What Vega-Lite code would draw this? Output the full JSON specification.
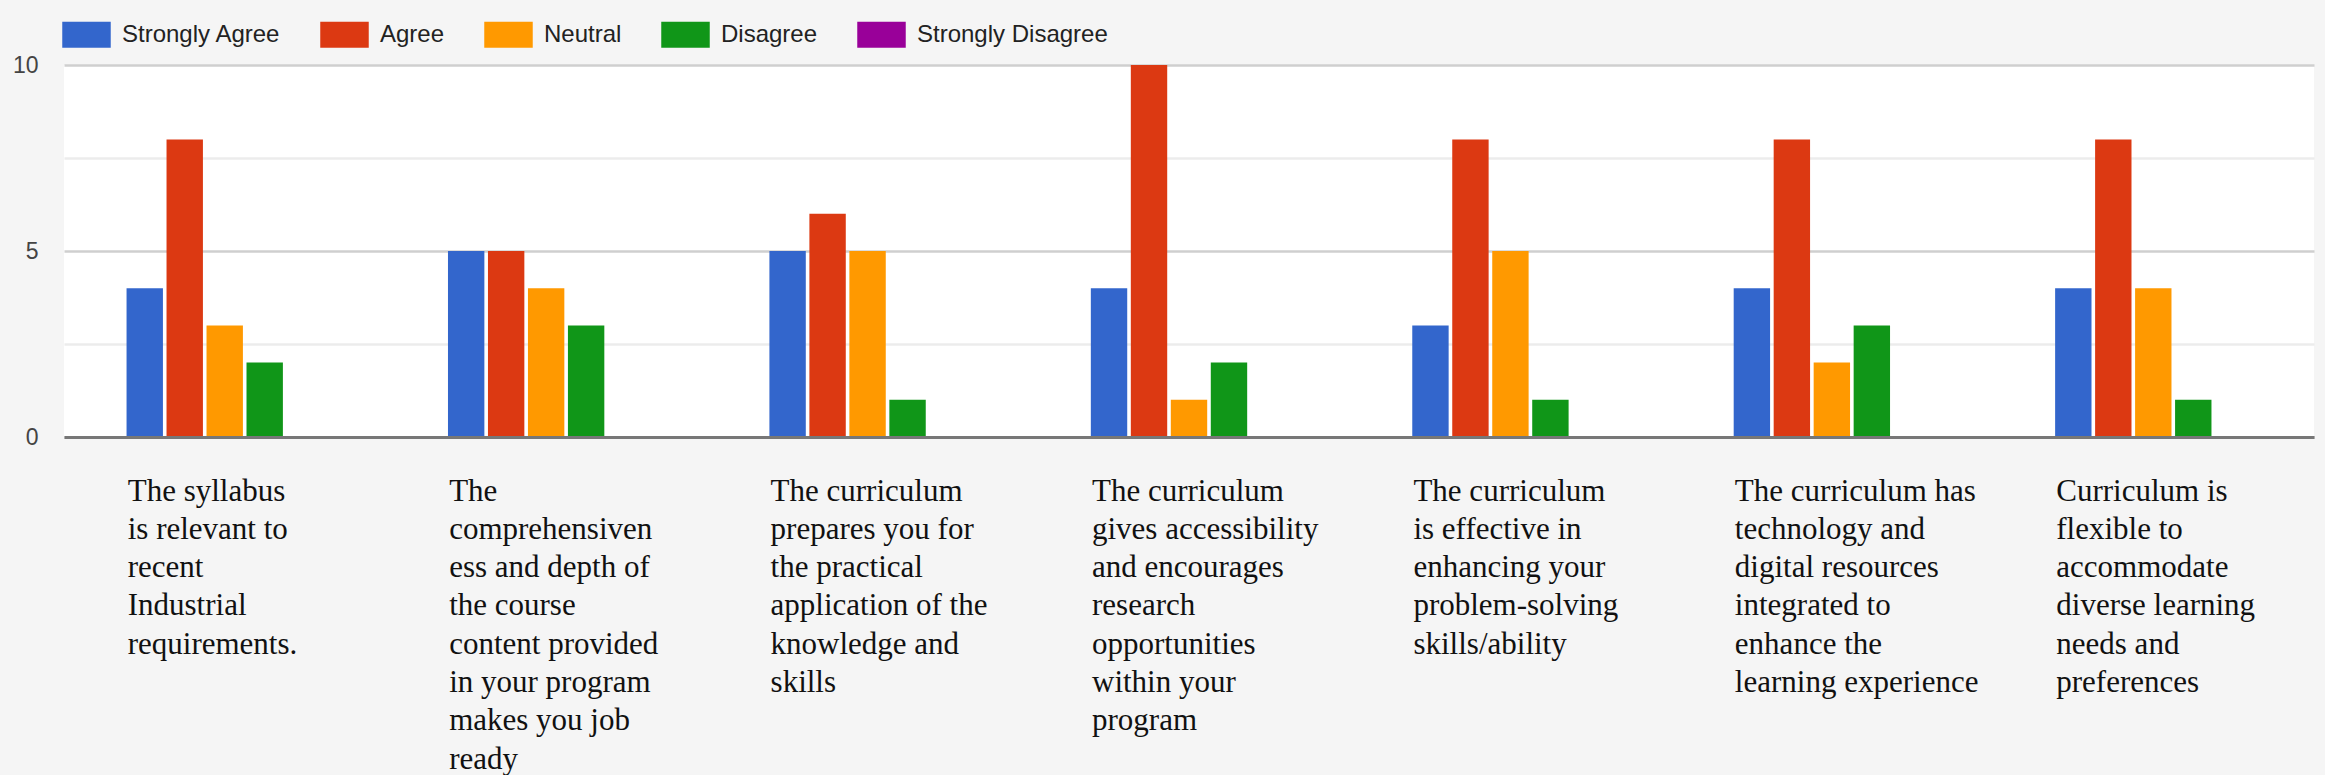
{
  "$schema": "https://vega.github.io/schema/vega-lite/v6.json",
  "width": 2250,
  "height": 372,
  "autosize": {"type": "none"},
  "padding": {"left": 64, "top": 65, "right": 11, "bottom": 338},
  "background": "#f5f5f5",
  "config": {"view": {"fill": "white", "stroke": null}},
  "data": {
    "values": [
      {"statement": "The syllabus|is relevant to|recent|Industrial|requirements.", "response": "Strongly Agree", "count": 4},
      {"statement": "The syllabus|is relevant to|recent|Industrial|requirements.", "response": "Agree", "count": 8},
      {"statement": "The syllabus|is relevant to|recent|Industrial|requirements.", "response": "Neutral", "count": 3},
      {"statement": "The syllabus|is relevant to|recent|Industrial|requirements.", "response": "Disagree", "count": 2},
      {"statement": "The syllabus|is relevant to|recent|Industrial|requirements.", "response": "Strongly Disagree", "count": 0},
      {"statement": "The|comprehensiven|ess and depth of|the course|content provided|in your program|makes you job|ready", "response": "Strongly Agree", "count": 5},
      {"statement": "The|comprehensiven|ess and depth of|the course|content provided|in your program|makes you job|ready", "response": "Agree", "count": 5},
      {"statement": "The|comprehensiven|ess and depth of|the course|content provided|in your program|makes you job|ready", "response": "Neutral", "count": 4},
      {"statement": "The|comprehensiven|ess and depth of|the course|content provided|in your program|makes you job|ready", "response": "Disagree", "count": 3},
      {"statement": "The|comprehensiven|ess and depth of|the course|content provided|in your program|makes you job|ready", "response": "Strongly Disagree", "count": 0},
      {"statement": "The curriculum|prepares you for|the practical|application of  the|knowledge and|skills", "response": "Strongly Agree", "count": 5},
      {"statement": "The curriculum|prepares you for|the practical|application of  the|knowledge and|skills", "response": "Agree", "count": 6},
      {"statement": "The curriculum|prepares you for|the practical|application of  the|knowledge and|skills", "response": "Neutral", "count": 5},
      {"statement": "The curriculum|prepares you for|the practical|application of  the|knowledge and|skills", "response": "Disagree", "count": 1},
      {"statement": "The curriculum|prepares you for|the practical|application of  the|knowledge and|skills", "response": "Strongly Disagree", "count": 0},
      {"statement": "The curriculum|gives accessibility|and encourages|research|opportunities|within your|program", "response": "Strongly Agree", "count": 4},
      {"statement": "The curriculum|gives accessibility|and encourages|research|opportunities|within your|program", "response": "Agree", "count": 10},
      {"statement": "The curriculum|gives accessibility|and encourages|research|opportunities|within your|program", "response": "Neutral", "count": 1},
      {"statement": "The curriculum|gives accessibility|and encourages|research|opportunities|within your|program", "response": "Disagree", "count": 2},
      {"statement": "The curriculum|gives accessibility|and encourages|research|opportunities|within your|program", "response": "Strongly Disagree", "count": 0},
      {"statement": "The curriculum|is effective in|enhancing your|problem-solving|skills/ability", "response": "Strongly Agree", "count": 3},
      {"statement": "The curriculum|is effective in|enhancing your|problem-solving|skills/ability", "response": "Agree", "count": 8},
      {"statement": "The curriculum|is effective in|enhancing your|problem-solving|skills/ability", "response": "Neutral", "count": 5},
      {"statement": "The curriculum|is effective in|enhancing your|problem-solving|skills/ability", "response": "Disagree", "count": 1},
      {"statement": "The curriculum|is effective in|enhancing your|problem-solving|skills/ability", "response": "Strongly Disagree", "count": 0},
      {"statement": "The curriculum has|technology and|digital resources|integrated to|enhance the|learning experience", "response": "Strongly Agree", "count": 4},
      {"statement": "The curriculum has|technology and|digital resources|integrated to|enhance the|learning experience", "response": "Agree", "count": 8},
      {"statement": "The curriculum has|technology and|digital resources|integrated to|enhance the|learning experience", "response": "Neutral", "count": 2},
      {"statement": "The curriculum has|technology and|digital resources|integrated to|enhance the|learning experience", "response": "Disagree", "count": 3},
      {"statement": "The curriculum has|technology and|digital resources|integrated to|enhance the|learning experience", "response": "Strongly Disagree", "count": 0},
      {"statement": "Curriculum is|flexible to|accommodate|diverse learning|needs and|preferences", "response": "Strongly Agree", "count": 4},
      {"statement": "Curriculum is|flexible to|accommodate|diverse learning|needs and|preferences", "response": "Agree", "count": 8},
      {"statement": "Curriculum is|flexible to|accommodate|diverse learning|needs and|preferences", "response": "Neutral", "count": 4},
      {"statement": "Curriculum is|flexible to|accommodate|diverse learning|needs and|preferences", "response": "Disagree", "count": 1},
      {"statement": "Curriculum is|flexible to|accommodate|diverse learning|needs and|preferences", "response": "Strongly Disagree", "count": 0}
    ]
  },
  "mark": {"type": "bar"},
  "encoding": {
    "x": {
      "field": "statement",
      "type": "nominal",
      "sort": null,
      "scale": {"paddingInner": 0.378, "paddingOuter": 0.189},
      "axis": {
        "title": null,
        "domainColor": "#777777",
        "domainWidth": 3,
        "ticks": false,
        "tickSize": 0,
        "grid": false,
        "labelAngle": 0,
        "labelAlign": "left",
        "labelBaseline": "alphabetic",
        "labelOffset": -97,
        "labelPadding": 63,
        "labelFont": "Liberation Serif",
        "labelFontSize": 31,
        "labelLineHeight": 38.3,
        "labelColor": "#111111",
        "labelLimit": 0,
        "labelOverlap": false,
        "labelBound": false,
        "labelFlush": false,
        "labelExpr": "split(datum.label, '|')",
        "zindex": 1
      }
    },
    "xOffset": {
      "field": "response",
      "type": "nominal",
      "sort": ["Strongly Agree", "Agree", "Neutral", "Disagree", "Strongly Disagree"],
      "scale": {"paddingInner": 0.09, "paddingOuter": 0.045}
    },
    "y": {
      "field": "count",
      "type": "quantitative",
      "scale": {"domain": [0, 10], "nice": false},
      "axis": {
        "title": null,
        "values": [0, 2.5, 5, 7.5, 10],
        "labelExpr": "datum.value % 5 === 0 ? datum.label : ''",
        "domain": false,
        "ticks": false,
        "labelPadding": 26,
        "labelFont": "Liberation Sans",
        "labelFontSize": 23,
        "labelColor": "#444444",
        "gridColor": {"condition": {"test": "datum.value % 5 === 0", "value": "#cfcfcf"}, "value": "#ececec"},
        "gridWidth": 2.5
      }
    },
    "color": {
      "field": "response",
      "type": "nominal",
      "sort": ["Strongly Agree", "Agree", "Neutral", "Disagree", "Strongly Disagree"],
      "scale": {
        "domain": ["Strongly Agree", "Agree", "Neutral", "Disagree", "Strongly Disagree"],
        "range": ["#3366cc", "#dc3912", "#ff9900", "#109618", "#990099"]
      },
      "legend": {
        "title": null,
        "orient": "none",
        "legendX": -2,
        "legendY": -55,
        "direction": "horizontal",
        "symbolType": "M-1,-0.536H1V0.536H-1Z",
        "symbolSize": 2352,
        "symbolStrokeWidth": 0,
        "symbolOpacity": 1,
        "labelFont": "Liberation Sans",
        "labelFontSize": 24,
        "labelColor": "#222222",
        "labelOffset": 11,
        "labelLimit": 0,
        "columnPadding": 39,
        "padding": 0
      }
    }
  }
}
